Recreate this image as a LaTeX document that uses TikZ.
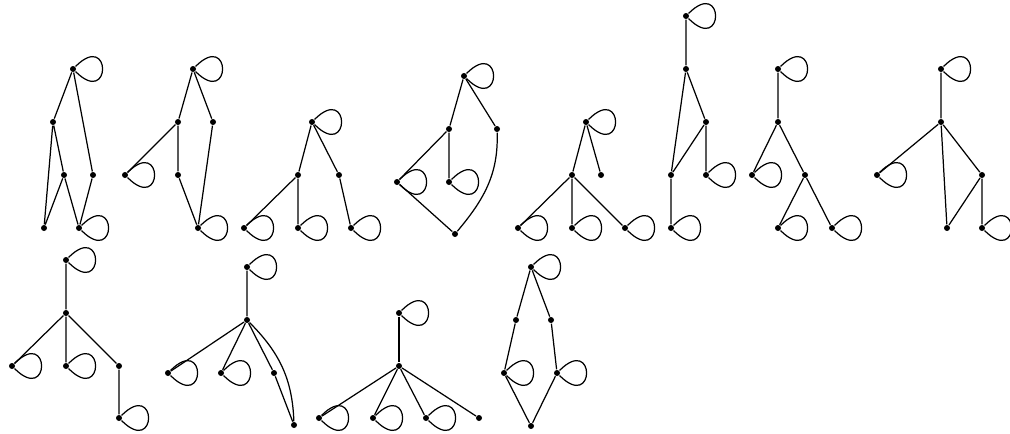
\documentclass[tikz,border=0pt]{standalone}
\usepackage{tikz}

\tikzset{
  vtx/.style={circle,fill=black,inner sep=0pt,minimum size=0.12cm},
  selfloop/.style={out=45,in=-45,min distance=1.02cm},
  gedge/.style={line width=0.7pt}
}

\begin{document}
\begin{tikzpicture}[x=0.02cm,y=-0.02cm,every path/.style={gedge}]
  \useasboundingbox (0,0) rectangle (1010,433);
  % graph 1
  \foreach \n/\x/\y in {a/73/69,b/53/122,c/64/175,d/93/175,e/44/228,f/79/228}
    {\node[vtx] (g1\n) at (\x,\y) {};}
  \draw (g1a) -- (g1b) (g1a) -- (g1d) (g1b) -- (g1e) (g1b) -- (g1c)
        (g1c) -- (g1e) (g1c) -- (g1f) (g1d) -- (g1f);
  \foreach \n in {a,f} {\draw (g1\n) to[selfloop] (g1\n);}
  % graph 2
  \foreach \n/\x/\y in {a/193/69,b/178/122,c/213/122,d/125/175,e/178/175,f/198/228}
    {\node[vtx] (g2\n) at (\x,\y) {};}
  \draw (g2a) -- (g2b) (g2a) -- (g2c) (g2b) -- (g2d) (g2b) -- (g2e)
        (g2e) -- (g2f) (g2c) -- (g2f);
  \foreach \n in {a,d,f} {\draw (g2\n) to[selfloop] (g2\n);}
  % graph 3
  \foreach \n/\x/\y in {a/312/122,b/298/175,c/339/175,d/244/228,e/298/228,f/351/228}
    {\node[vtx] (g3\n) at (\x,\y) {};}
  \draw (g3a) -- (g3b) (g3a) -- (g3c) (g3b) -- (g3d) (g3b) -- (g3e) (g3c) -- (g3f);
  \foreach \n in {a,d,e,f} {\draw (g3\n) to[selfloop] (g3\n);}
  % graph 4
  \foreach \n/\x/\y in {a/464/76,b/449/129,c/497/129,d/397/182,e/449/182,f/455/234}
    {\node[vtx] (g4\n) at (\x,\y) {};}
  \draw (g4a) -- (g4b) (g4a) -- (g4c) (g4b) -- (g4d) (g4b) -- (g4e) (g4d) -- (g4f);
  \draw (g4c) to[out=-88,in=50] (g4f);
  \foreach \n in {a,d,e} {\draw (g4\n) to[selfloop] (g4\n);}
  % graph 5
  \foreach \n/\x/\y in {a/586/122,b/572/175,c/601/175,d/518/228,e/572/228,f/625/228}
    {\node[vtx] (g5\n) at (\x,\y) {};}
  \draw (g5a) -- (g5b) (g5a) -- (g5c) (g5b) -- (g5d) (g5b) -- (g5e) (g5b) -- (g5f);
  \foreach \n in {a,d,e,f} {\draw (g5\n) to[selfloop] (g5\n);}
  % graph 6
  \foreach \n/\x/\y in {a/686/16,b/686/69,c/706/122,d/671/175,e/706/175,f/671/228}
    {\node[vtx] (g6\n) at (\x,\y) {};}
  \draw (g6a) -- (g6b) (g6b) -- (g6d) (g6b) -- (g6c) (g6c) -- (g6d)
        (g6c) -- (g6e) (g6d) -- (g6f);
  \foreach \n in {a,e,f} {\draw (g6\n) to[selfloop] (g6\n);}
  % graph 7
  \foreach \n/\x/\y in {a/778/69,b/778/122,c/752/175,d/805/175,e/778/228,f/832/228}
    {\node[vtx] (g7\n) at (\x,\y) {};}
  \draw (g7a) -- (g7b) (g7b) -- (g7c) (g7b) -- (g7d) (g7d) -- (g7e) (g7d) -- (g7f);
  \foreach \n in {a,c,e,f} {\draw (g7\n) to[selfloop] (g7\n);}
  % graph 8
  \foreach \n/\x/\y in {a/941/69,b/941/122,c/877/175,d/982/175,e/947/228,f/982/228}
    {\node[vtx] (g8\n) at (\x,\y) {};}
  \draw (g8a) -- (g8b) (g8b) -- (g8c) (g8b) -- (g8e) (g8b) -- (g8d)
        (g8d) -- (g8e) (g8d) -- (g8f);
  \foreach \n in {a,c,f} {\draw (g8\n) to[selfloop] (g8\n);}
  % graph 9
  \foreach \n/\x/\y in {a/66/260,b/66/313,c/12/366,d/66/366,e/119/366,f/119/418}
    {\node[vtx] (g9\n) at (\x,\y) {};}
  \draw (g9a) -- (g9b) (g9b) -- (g9c) (g9b) -- (g9d) (g9b) -- (g9e) (g9e) -- (g9f);
  \foreach \n in {a,c,d,f} {\draw (g9\n) to[selfloop] (g9\n);}
  % graph 10
  \foreach \n/\x/\y in {a/247/267,b/247/320,c/168/373,d/221/373,e/274/373,f/294/425}
    {\node[vtx] (g10\n) at (\x,\y) {};}
  \draw (g10a) -- (g10b) (g10b) -- (g10c) (g10b) -- (g10d) (g10b) -- (g10e) (g10e) -- (g10f);
  \draw (g10b) to[out=-45,in=92] (g10f);
  \foreach \n in {a,c,d} {\draw (g10\n) to[selfloop] (g10\n);}
  % graph 11
  \foreach \n/\x/\y in {a/399/313,b/399/366,c/319/418,d/373/418,e/426/418,f/479/418}
    {\node[vtx] (g11\n) at (\x,\y) {};}
  \draw (g11a) -- (g11b);
  \foreach \n in {c,d,e,f} {\draw (g11b) -- (g11\n);}
  \foreach \n in {a,c,d,e} {\draw (g11\n) to[selfloop] (g11\n);}
  % graph 12
  \foreach \n/\x/\y in {a/531/267,b/516/320,c/551/320,d/504/373,e/557/373,f/531/426}
    {\node[vtx] (g12\n) at (\x,\y) {};}
  \draw (g12a) -- (g12b) (g12a) -- (g12c) (g12b) -- (g12d) (g12c) -- (g12e)
        (g12d) -- (g12f) (g12e) -- (g12f);
  \foreach \n in {a,d,e} {\draw (g12\n) to[selfloop] (g12\n);}
\end{tikzpicture}
\end{document}
